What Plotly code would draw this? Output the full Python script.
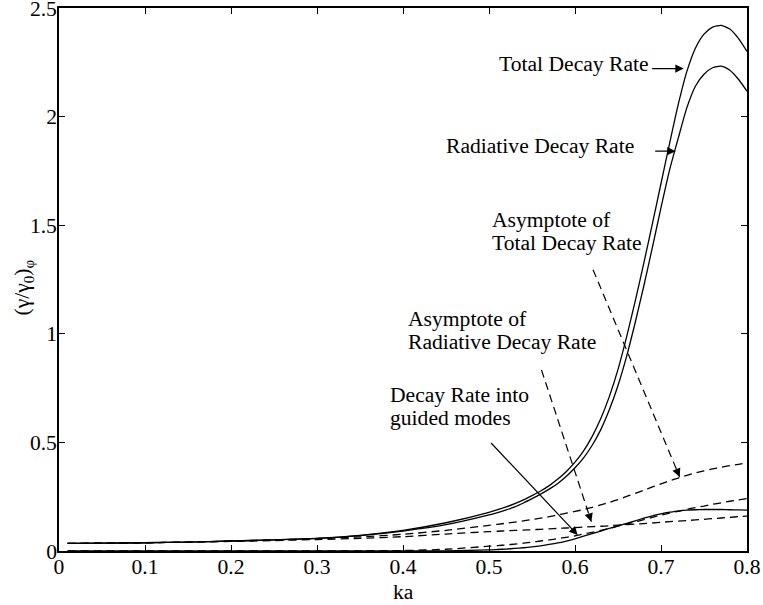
import plotly.graph_objects as go

# Normalised decay rates versus ka
ka = [0.01, 0.05, 0.10, 0.15, 0.20, 0.25, 0.30, 0.35, 0.40, 0.45, 0.50,
      0.51, 0.52, 0.53, 0.54, 0.55, 0.56, 0.57, 0.58, 0.59, 0.60, 0.61, 0.62, 0.63, 0.64, 0.65,
      0.66, 0.67, 0.68, 0.69, 0.70, 0.71, 0.72, 0.73, 0.74, 0.75, 0.76, 0.77, 0.78,
      0.79, 0.80]

total_rate = [0.035, 0.036, 0.038, 0.041, 0.046, 0.051, 0.058, 0.072, 0.095, 0.130, 0.178,
              0.190, 0.203, 0.218, 0.235, 0.255, 0.276, 0.301, 0.331, 0.366, 0.409, 0.461, 0.528, 0.610, 0.712, 0.836,
              0.986, 1.150, 1.325, 1.507, 1.692, 1.877, 2.055, 2.207, 2.315, 2.380, 2.412, 2.420, 2.403,
              2.360, 2.300]

radiative_rate = [0.035, 0.036, 0.038, 0.041, 0.046, 0.051, 0.058, 0.071, 0.092, 0.121, 0.166,
                  0.177, 0.189, 0.203, 0.221, 0.241, 0.262, 0.285, 0.311, 0.344, 0.383, 0.429, 0.487, 0.559, 0.651, 0.762,
                  0.896, 1.052, 1.220, 1.398, 1.581, 1.755, 1.900, 2.040, 2.140, 2.195, 2.225, 2.232, 2.213,
                  2.172, 2.117]

guided_rate = [0.0, 0.0, 0.0, 0.0, 0.0, 0.0, 0.0, 0.0, 0.0, 0.001, 0.005,
               0.007, 0.009, 0.012, 0.015, 0.019, 0.024, 0.030, 0.037, 0.046, 0.056, 0.068, 0.080, 0.092, 0.104, 0.116,
               0.127, 0.139, 0.151, 0.162, 0.171, 0.179, 0.184, 0.188, 0.190, 0.191, 0.191, 0.191, 0.190,
               0.189, 0.188]

total_asymptote = [0.035, 0.036, 0.038, 0.041, 0.046, 0.051, 0.057, 0.065, 0.077, 0.095, 0.118,
                   0.123, 0.128, 0.133, 0.139, 0.145, 0.151, 0.158, 0.166, 0.174, 0.182, 0.191, 0.201, 0.212, 0.224, 0.237,
                   0.251, 0.265, 0.280, 0.295, 0.309, 0.323, 0.336, 0.348, 0.359, 0.369, 0.378, 0.386, 0.393,
                   0.399, 0.405]

radiative_asymptote = [0.035, 0.036, 0.038, 0.041, 0.044, 0.048, 0.053, 0.058, 0.066, 0.078, 0.089,
                       0.091, 0.093, 0.095, 0.096, 0.098, 0.100, 0.102, 0.104, 0.106, 0.108, 0.110, 0.112, 0.114, 0.116, 0.119,
                       0.121, 0.124, 0.126, 0.129, 0.132, 0.135, 0.138, 0.140, 0.143, 0.146, 0.149, 0.152, 0.155,
                       0.158, 0.161]

guided_asymptote = [0.0, 0.0, 0.0, 0.0, 0.0, 0.0, 0.0, 0.001, 0.002, 0.008, 0.022,
                    0.025, 0.028, 0.032, 0.036, 0.041, 0.046, 0.051, 0.057, 0.063, 0.070, 0.078, 0.086, 0.095, 0.104, 0.114,
                    0.124, 0.134, 0.144, 0.155, 0.165, 0.174, 0.183, 0.192, 0.200, 0.207, 0.215, 0.222, 0.229,
                    0.235, 0.241]

x_ticks = [0, 0.1, 0.2, 0.3, 0.4, 0.5, 0.6, 0.7, 0.8]
x_tick_text = ["0", "0.1", "0.2", "0.3", "0.4", "0.5", "0.6", "0.7", "0.8"]
y_ticks = [0, 0.5, 1, 1.5, 2, 2.5]
y_tick_text = ["0", "0.5", "1", "1.5", "2", "2.5"]

FONT = "Liberation Serif"
FS = 21.6
DASH = "8px,5px"

fig = go.Figure()

solid = dict(color="black", width=1.3)
dashed = dict(color="black", width=1.3, dash=DASH)

for ys, ln in [(total_rate, solid), (radiative_rate, solid), (guided_rate, solid),
               (total_asymptote, dashed), (radiative_asymptote, dashed), (guided_asymptote, dashed)]:
    fig.add_trace(go.Scatter(x=ka, y=ys, mode="lines", line=dict(shape="spline", smoothing=0.6, **ln),
                             showlegend=False, hoverinfo="skip"))

# Labels: each text line placed separately (left edge, vertical centre)
labels = [
    ("Total Decay Rate", 0.509, 2.240),
    ("Radiative Decay Rate", 0.4473, 1.864),
    ("Asymptote of", 0.5008, 1.525),
    ("Total Decay Rate", 0.5008, 1.420),
    ("Asymptote of", 0.404, 1.069),
    ("Radiative Decay Rate", 0.404, 0.964),
    ("Decay Rate into", 0.3826, 0.719),
    ("guided modes", 0.3826, 0.613),
]
for txt, lx, ly in labels:
    fig.add_annotation(x=lx, y=ly, text=txt, showarrow=False, xanchor="left", yanchor="middle",
                       font=dict(family=FONT, size=FS, color="black"))

# Solid arrows: (tail, tip) in data coordinates
solid_arrows = [
    ((0.688, 2.221), (0.7264, 2.221)),
    ((0.6915, 1.841), (0.717, 1.841)),
    ((0.5008, 0.504), (0.6031, 0.074)),
]
for (tx, ty), (hx, hy) in solid_arrows:
    fig.add_annotation(x=hx, y=hy, ax=tx, ay=ty, axref="x", ayref="y", xref="x", yref="y",
                       text="", showarrow=True, arrowhead=2, arrowsize=1.4, arrowwidth=1.2,
                       arrowcolor="black")

# Dashed arrows: dashed shaft plus a filled head
dashed_arrows = [
    ((0.621, 1.295), (0.7217, 0.341)),
    ((0.561, 0.834), (0.619, 0.135)),
]
for (tx, ty), (hx, hy) in dashed_arrows:
    fig.add_shape(type="line", x0=tx, y0=ty, x1=hx, y1=hy, xref="x", yref="y",
                  line=dict(color="black", width=1.2, dash=DASH))
    sx = hx + (tx - hx) * 0.04
    sy = hy + (ty - hy) * 0.04
    fig.add_annotation(x=hx, y=hy, ax=sx, ay=sy, axref="x", ayref="y", xref="x", yref="y",
                       text="", showarrow=True, arrowhead=2, arrowsize=1.4, arrowwidth=1.2,
                       arrowcolor="black")

# Axis titles
fig.add_annotation(x=0.4, y=-0.075, xref="x", yref="paper", yanchor="middle", text="ka",
                   showarrow=False, font=dict(family=FONT, size=FS, color="black"))
fig.add_annotation(x=-0.051, y=0.485, xref="paper", yref="paper", xanchor="center",
                   yanchor="middle", textangle=-90,
                   text="(γ/γ<sub>0</sub>)<sub>φ</sub>", showarrow=False,
                   font=dict(family=FONT, size=FS, color="black"))

axis_common = dict(showline=True, linecolor="black", linewidth=1.5, mirror="ticks",
                   ticks="inside", ticklen=6, tickwidth=1, tickcolor="black",
                   showgrid=False, zeroline=False, ticklabeloverflow="allow",
                   tickfont=dict(family=FONT, size=FS, color="black"))

fig.update_xaxes(range=[0, 0.8], tickvals=x_ticks, ticktext=x_tick_text,
                 ticklabelstandoff=-5, **axis_common)
fig.update_yaxes(range=[0, 2.5], tickvals=y_ticks, ticktext=y_tick_text,
                 ticklabelstandoff=-4, **axis_common)

fig.update_layout(width=763, height=605, margin=dict(l=59, r=16, t=8, b=54, autoexpand=False),
                  plot_bgcolor="white", paper_bgcolor="white", showlegend=False)

fig.write_html("out.html")
